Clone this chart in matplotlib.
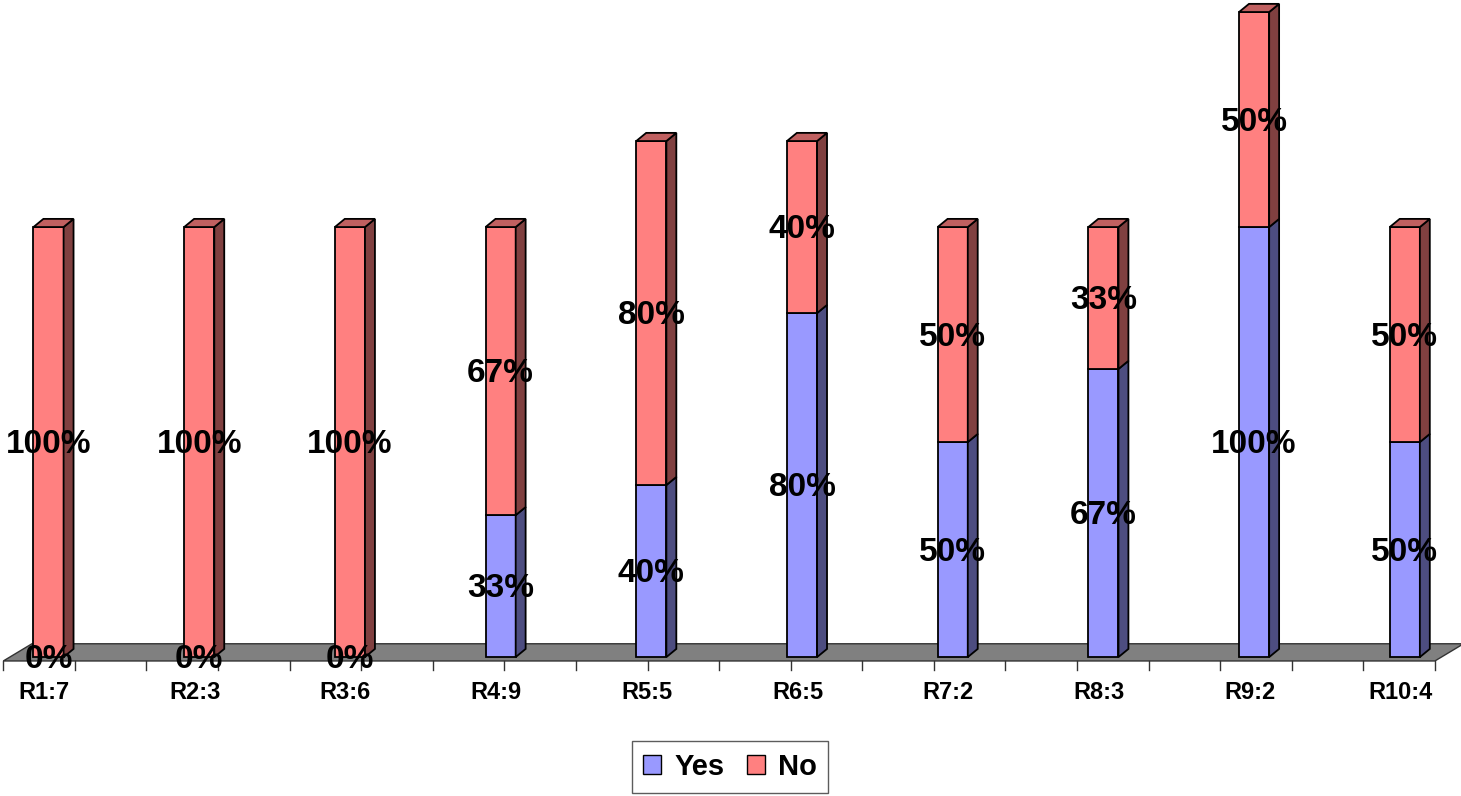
import numpy as np
import matplotlib
matplotlib.use("Agg")
import matplotlib.pyplot as plt
from matplotlib.patches import Polygon, Patch

plt.rcParams['font.family'] = ['Liberation Sans', 'DejaVu Sans']

# Data
categories = ["R1:7", "R2:3", "R3:6", "R4:9", "R5:5", "R6:5", "R7:2", "R8:3", "R9:2", "R10:4"]
yes_pct = [0, 0, 0, 33, 40, 80, 50, 67, 100, 50]
no_pct = [100, 100, 100, 67, 80, 40, 50, 33, 50, 50]

# Colours (front, side, top)
yes_cols = ("#9999FF", "#4D4D80", "#7A7ACC")
no_cols = ("#FF8080", "#804040", "#C06060")
floor_col = "#808080"

# 3D look
bar_w = 0.2
dx, dy = 0.066, 1.9
floor_dx, floor_dy = 0.19, 4.0
floor_front = -0.9

fig = plt.figure(figsize=(14.61, 7.96), dpi=100)
ax = fig.add_axes([0, 0, 1, 1])
ax.set_xlim(-0.322, 9.373)
ax.set_ylim(-32.3, 152.8)
ax.axis('off')

n = len(categories)
x = np.arange(n)

# floor
fl, fr = -0.30, n - 0.8
ax.add_patch(Polygon([(fl, floor_front), (fr, floor_front),
                      (fr + floor_dx, floor_front + floor_dy), (fl + floor_dx, floor_front + floor_dy)],
                     closed=True, facecolor=floor_col, edgecolor='#333333', lw=1.0, zorder=1))
for t in np.linspace(fl, fr, 2 * n + 1):
    ax.plot([t, t], [floor_front, floor_front - 2.0], color='#333333', lw=1.0, zorder=1)


def draw_box(xc, y0, h, cols, top):
    l, r = xc - bar_w / 2, xc + bar_w / 2
    ax.add_patch(Polygon([(l, y0), (r, y0), (r, y0 + h), (l, y0 + h)],
                         facecolor=cols[0], edgecolor='black', lw=1.3, zorder=3))
    ax.add_patch(Polygon([(r, y0), (r + dx, y0 + dy), (r + dx, y0 + h + dy), (r, y0 + h)],
                         facecolor=cols[1], edgecolor='black', lw=1.3, zorder=3))
    if top:
        ax.add_patch(Polygon([(l, y0 + h), (r, y0 + h), (r + dx, y0 + h + dy), (l + dx, y0 + h + dy)],
                             facecolor=cols[2], edgecolor='black', lw=1.3, zorder=3))


for i in range(n):
    y, nv = yes_pct[i], no_pct[i]
    if y > 0:
        draw_box(x[i], 0, y, yes_cols, nv == 0)
    if nv > 0:
        draw_box(x[i], y, nv, no_cols, True)
    ax.text(x[i], y / 2 - 0.6, f"{y}%", ha='center', va='center', fontsize=24,
            fontweight='bold', zorder=5)
    ax.text(x[i], y + nv / 2 - 0.6, f"{nv}%", ha='center', va='center', fontsize=24,
            fontweight='bold', zorder=5)
    ax.text(x[i] - 0.03, -8.3, categories[i], ha='center', va='center', fontsize=17,
            fontweight='bold', zorder=5)

handles = [Patch(facecolor=yes_cols[0], edgecolor='black', label='Yes'),
           Patch(facecolor=no_cols[0], edgecolor='black', label='No')]
leg = fig.legend(handles=handles, loc='center', bbox_to_anchor=(0.4997, 0.0364), ncol=2,
                 frameon=True, fancybox=False, prop={'size': 21, 'weight': 'bold'},
                 handlelength=0.62, handleheight=0.62, handletextpad=0.45,
                 columnspacing=0.75, borderpad=0.4)
leg.get_frame().set_edgecolor('#333333')
leg.get_frame().set_linewidth(1.0)

fig.savefig("out.png", dpi=100)
